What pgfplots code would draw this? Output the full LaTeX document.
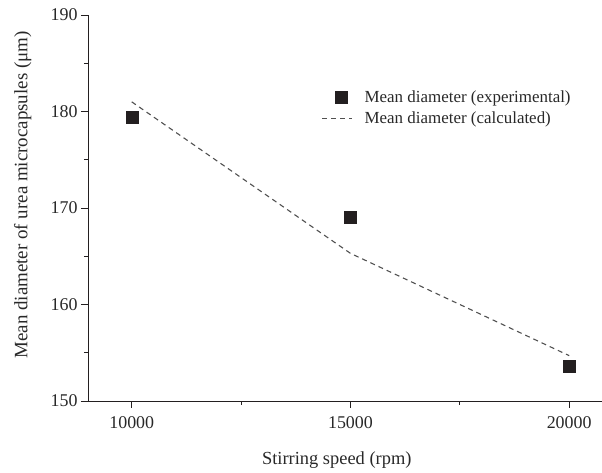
\documentclass[border=0pt]{standalone}
\usepackage{fontspec}
\setmainfont{Liberation Serif}
\usepackage{pgfplots}
\pgfplotsset{compat=1.18}
\definecolor{ink}{RGB}{35,31,32}
\definecolor{txt}{RGB}{40,40,40}
\definecolor{dashc}{RGB}{80,80,80}
\pgfplotsset{
  longline/.style={legend image code/.code={\draw[##1] (0bp,0bp) -- (30bp,0bp); \path (40bp,0bp);}},
  longmark/.style={legend image code/.code={\draw[##1] plot coordinates {(19bp,0bp)}; \path (0bp,0bp) (40bp,0bp);}},
}
\begin{document}
\begin{tikzpicture}
\begin{axis}[
  scale only axis,
  width=514bp, height=386bp,
  xmin=9000, xmax=20750,
  ymin=150, ymax=190,
  axis x line=bottom, axis y line=left,
  axis line style={-, ink, line width=0.9pt},
  xtick={10000,15000,20000},
  minor xtick={12500,17500},
  ytick={150,160,170,180,190},
  minor ytick={155,165,175,185},
  scaled x ticks=false,
  tick align=outside,
  major tick length=7bp, minor tick length=4bp,
  tick style={ink, line width=0.9pt},
  /pgf/number format/assume math mode=true,
  /pgf/number format/1000 sep={},
  tick label style={font=\fontsize{18}{21}\selectfont, text=txt},
  xticklabel style={yshift=-5bp},
  xlabel={Stirring speed (rpm)},
  ylabel={Mean diameter of urea microcapsules (μm)},
  xlabel style={at={(axis description cs:0.484,-0.153)}, anchor=center, font=\fontsize{18.5}{22}\selectfont, text=txt},
  ylabel style={at={(axis description cs:-0.127,0.534)}, anchor=center, font=\fontsize{19}{22}\selectfont, text=txt},
  legend style={draw=none, fill=none, at={(axis description cs:0.454,0.809)}, anchor=north west,
    font=\fontsize{17}{20}\selectfont, text=txt, row sep=4pt, inner sep=0pt},
  legend cell align=left,
  clip=false,
]
\addplot[only marks, mark=square*, mark size=6bp, mark options={fill=ink, draw=ink}, longmark]
  coordinates {(10000,179.4) (15000,169.0) (20000,153.6)};
\addlegendentry{Mean diameter (experimental)}
\addplot[dashc, line width=1.1pt, dash pattern=on 5bp off 4bp, longline]
  coordinates {(10000,181.0) (15000,165.3) (20000,154.7)};
\addlegendentry{Mean diameter (calculated)}
\coordinate (bl) at (rel axis cs:0,0);
\coordinate (tr) at (rel axis cs:1,1);
\end{axis}
\pgfresetboundingbox
\path ([shift={(-88bp,-72bp)}]bl) rectangle ([shift={(0bp,15bp)}]tr);
\end{tikzpicture}
\end{document}
